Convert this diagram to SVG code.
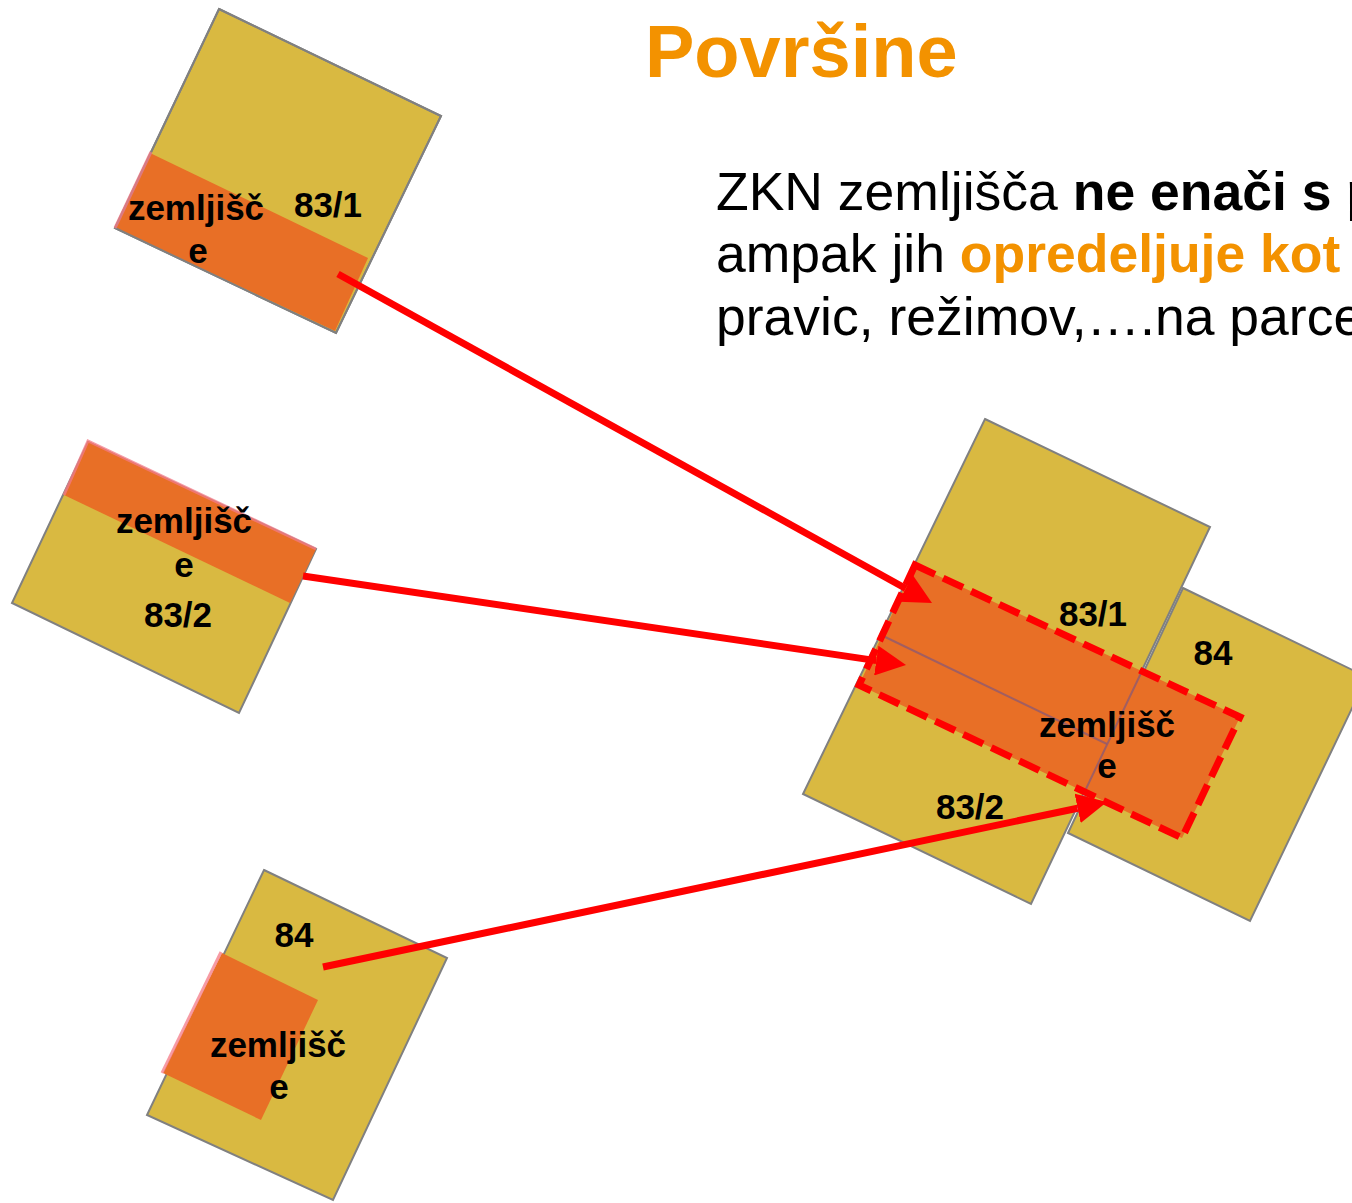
<svg xmlns="http://www.w3.org/2000/svg" width="1352" height="1203" viewBox="0 0 1352 1203">
<defs>
<style>
.parcel{fill:#D9B941;stroke:#808080;stroke-width:2}
.outline{fill:none;stroke:#808080;stroke-width:2}
.zem{fill:#E86F26}
.pink{stroke:#F47A86;stroke-opacity:0.75;stroke-width:3;fill:none}
.lbl{font-family:"Liberation Sans",Arial,sans-serif;font-weight:bold;font-size:35px;fill:#000;text-anchor:middle}
.body{font-family:"Liberation Sans",Arial,sans-serif;font-size:53.5px;fill:#000}
.title{font-family:"Liberation Sans",Arial,sans-serif;font-weight:bold;font-size:74px;fill:#F39200}
.conn{stroke:#FF0000;stroke-width:7;fill:none;marker-end:url(#ah)}
.dash{fill:none;stroke:#FF0000;stroke-width:7;stroke-dasharray:22 9}
.inner{stroke:#8E5A70;stroke-width:2;stroke-opacity:0.8}
</style>
<marker id="ah" markerUnits="userSpaceOnUse" markerWidth="30" markerHeight="30" refX="0" refY="15" orient="auto"><path d="M0,0 L30,15 L0,30 z" fill="#FF0000"/></marker>
</defs>
<rect width="1352" height="1203" fill="#FFFFFF"/>

<g id="title">
<text class="title" x="645" y="77">Površine</text>
</g>

<g id="text">
<text class="body" x="716" y="210">ZKN zemljišča <tspan font-weight="bold">ne enači s p</tspan></text>
<text class="body" x="716" y="272">ampak jih <tspan font-weight="bold" fill="#F39200">opredeljuje kot</tspan></text>
<text class="body" x="716" y="335">pravic, režimov,….na parce</text>
</g>

<g id="parcel-83-1">
<polygon class="parcel" points="219,9 441,116 336,333 115,228"/>
<polygon class="zem" points="150,153 368,258 335,331 115,228"/>
<polygon class="outline" points="219,9 441,116 336,333 115,228"/>
<line class="pink" x1="151" y1="152" x2="115" y2="228"/>
<text class="lbl" x="196" y="220">zemljišč</text>
<text class="lbl" x="198" y="263">e</text>
<text class="lbl" x="328" y="217">83/1</text>
</g>

<g id="parcel-83-2">
<polygon class="parcel" points="88,442 316,549 239,713 12,603"/>
<polygon class="zem" points="88,441 316,549 290,603 64,495"/>
<polyline class="pink" points="64,495 88,441 316,549"/>
<text class="lbl" x="184" y="533">zemljišč</text>
<text class="lbl" x="184" y="577">e</text>
<text class="lbl" x="178" y="627">83/2</text>
</g>

<g id="parcel-84">
<polygon class="parcel" points="264,870 447,958 333,1200 147,1115"/>
<polygon class="zem" points="222,953 318,1000 261,1120 163,1073"/>
<line class="pink" x1="221" y1="952" x2="162" y2="1073"/>
<text class="lbl" x="294" y="947">84</text>
<text class="lbl" x="278" y="1057">zemljišč</text>
<text class="lbl" x="279" y="1099">e</text>
</g>

<g id="merged">
<polygon class="parcel" points="1183,588 1367,677 1250,921 1068,833"/>
<polygon class="parcel" points="985,419 1210,527 1031,904 803,794"/>
<line class="outline" x1="881" y1="635" x2="1107" y2="744"/>
<polygon class="zem" points="915,565 1240,717 1182,838 859,685"/>
<line class="inner" x1="881" y1="635" x2="1107" y2="744"/>
<line class="inner" x1="1142" y1="671" x2="1085" y2="791"/>
<polygon class="dash" points="915,565 1240,717 1182,838 859,685"/>
<text class="lbl" x="1093" y="626">83/1</text>
<text class="lbl" x="1213" y="665">84</text>
<text class="lbl" x="1107" y="737">zemljišč</text>
<text class="lbl" x="1107" y="778">e</text>
<text class="lbl" x="970" y="819">83/2</text>
</g>

<g id="connectors">
<line class="conn" x1="338" y1="274" x2="905.75" y2="588.5"/>
<line class="conn" x1="303" y1="576" x2="876.3" y2="660.6"/>
<line class="conn" x1="323" y1="967" x2="1077.6" y2="808.2"/>
</g>
</svg>
